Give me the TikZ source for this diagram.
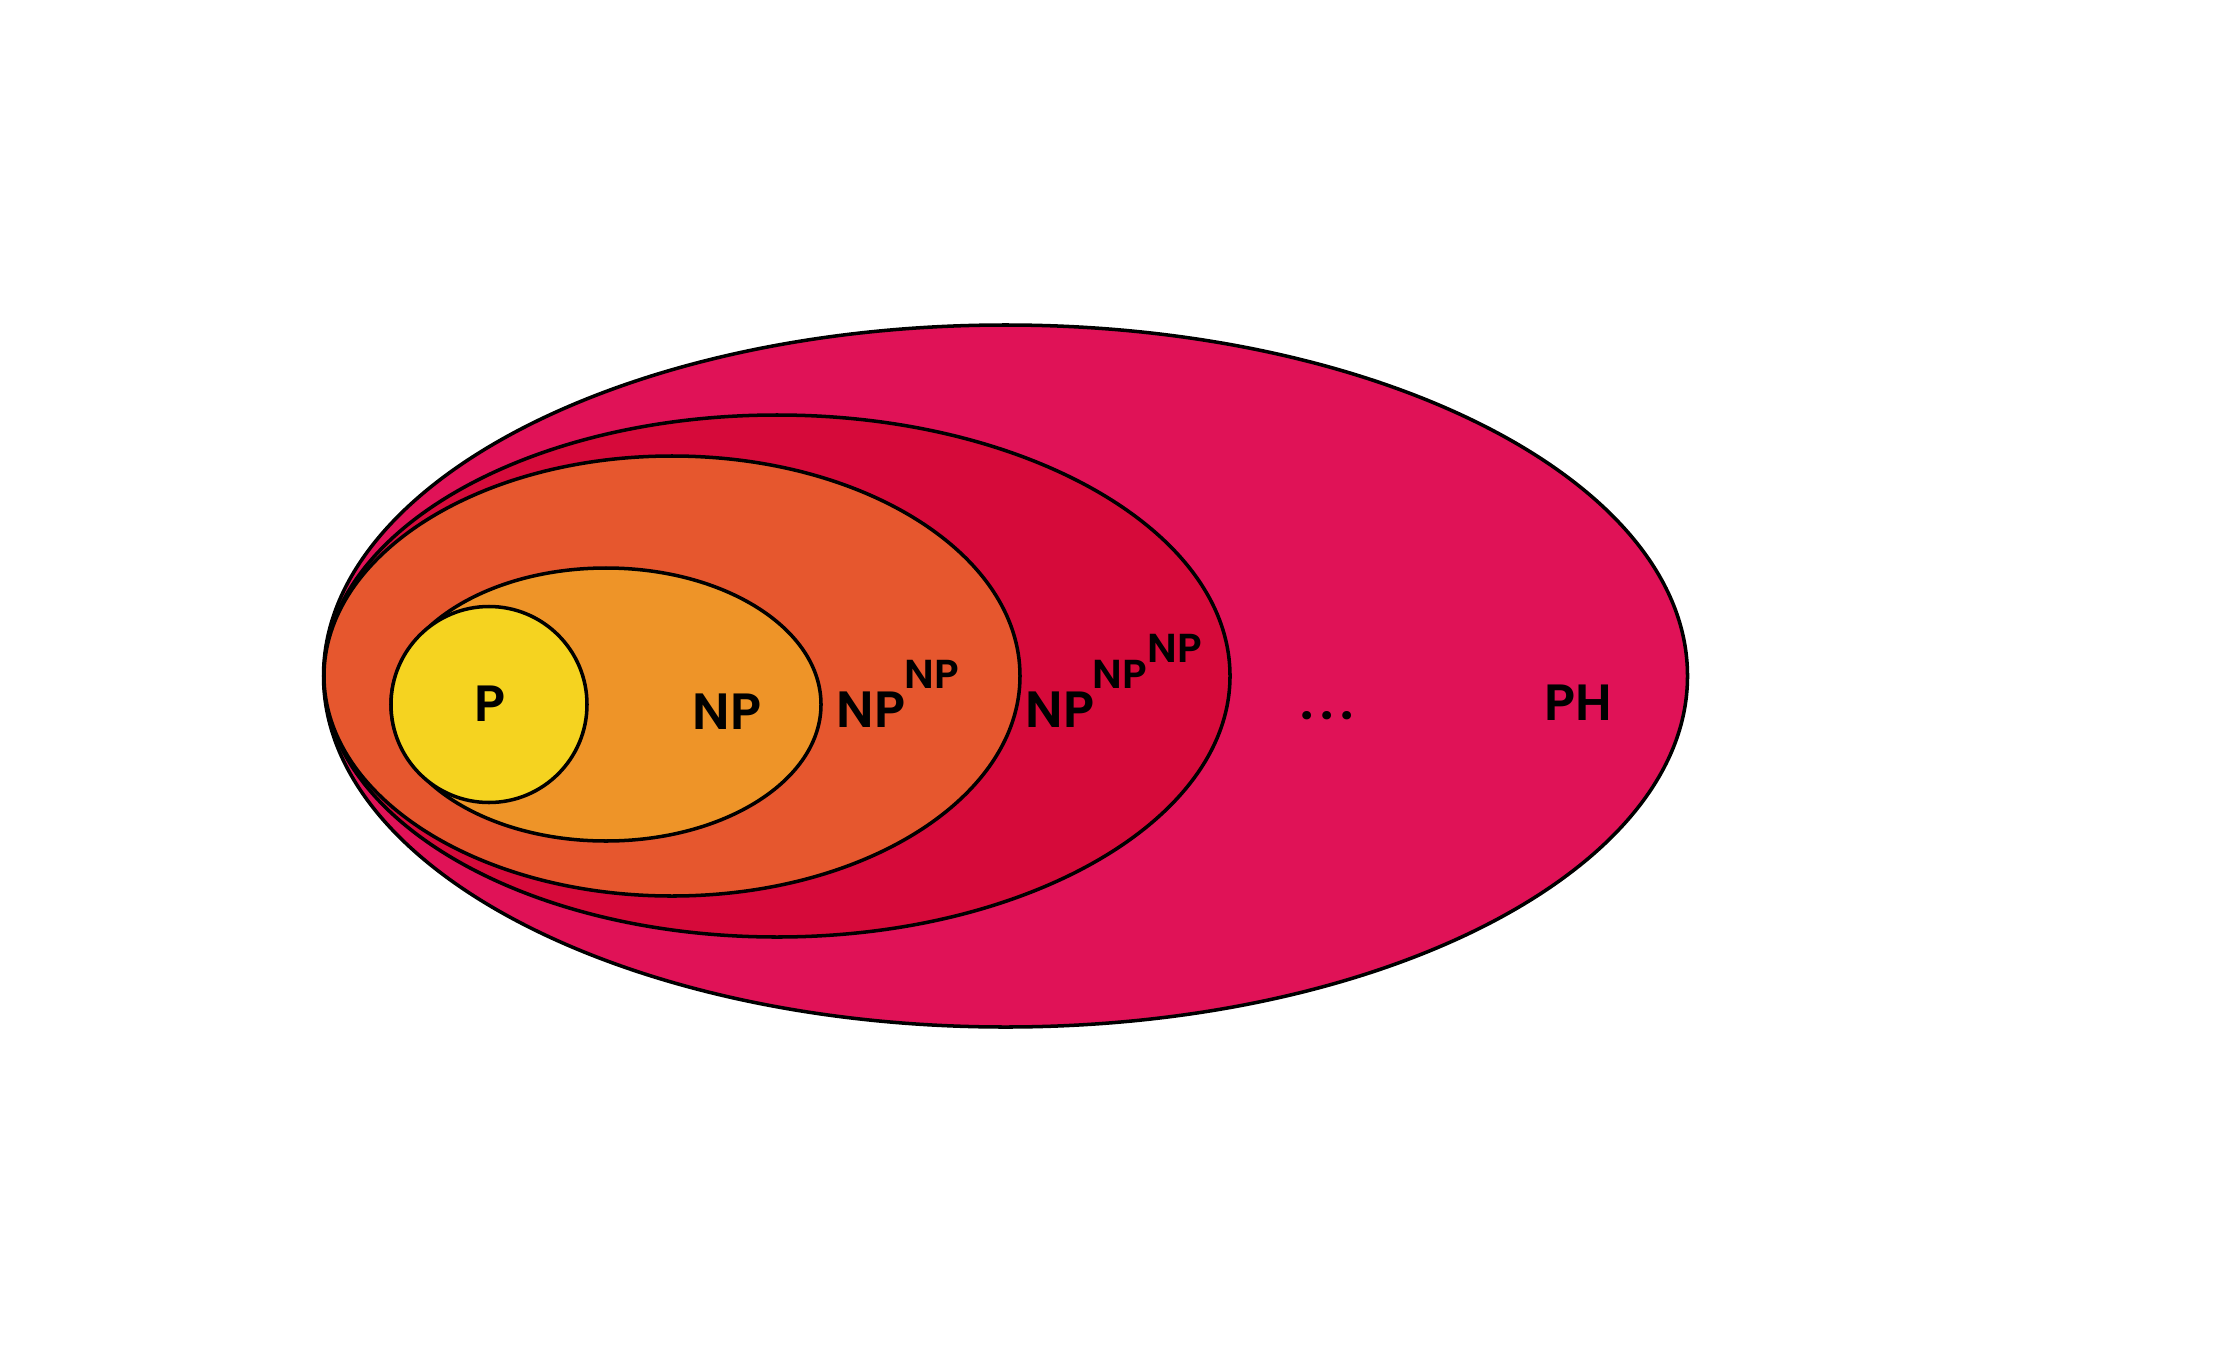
\documentclass[tikz,border=0pt]{standalone}
\usepackage{fontspec}
\setmainfont{Poppins}[BoldFont={Poppins SemiBold}]
\usepackage{xcolor}
\definecolor{phpink}{HTML}{E01257}
\definecolor{crim}{HTML}{D60A3A}
\definecolor{orred}{HTML}{E6572E}
\definecolor{orng}{HTML}{EE9428}
\definecolor{yell}{HTML}{F5D320}
\usepackage{tikz}
\usetikzlibrary{positioning}

\begin{document}
\begin{tikzpicture}[x=0.1mm,y=-0.1mm,
  klasse/.style={draw=black,line width=1pt},
  lbl/.style={font=\fontsize{14.5}{15}\selectfont\bfseries,inner sep=0pt},
  hoch/.style={font=\fontsize{11.5}{12}\selectfont\bfseries,inner sep=0pt}]
  \useasboundingbox (0,0) rectangle (2227,1350);
  % nested classes
  \draw[klasse,fill=phpink] (1005.5,676) ellipse [x radius=682,y radius=351];
  \draw[klasse,fill=crim] (777,676) ellipse [x radius=453,y radius=261];
  \draw[klasse,fill=orred] (672,676) ellipse [x radius=348,y radius=220];
  \draw[klasse,fill=orng] (606,704.5) ellipse [x radius=215,y radius=136.5];
  \draw[klasse,fill=yell] (489,704.5) circle [radius=98];
  % labels
  \node[lbl] (p) at (490,704) {P};
  \node[lbl] (np) at (727,712) {NP};
  \node[lbl] (np2) at (871,710) {NP};
  \node[hoch] (np2a) at (932,674) {NP};
  \node[lbl] (np3) at (1060,710) {NP};
  \node[hoch] (np3a) at (1120,674) {NP};
  \node[hoch] (np3b) at (1175,648) {NP};
  \node[lbl] (dots) at (1327,716) {.\kern2pt.\kern2pt.};
  \node[lbl] (ph) at (1578,703) {PH};
\end{tikzpicture}
\end{document}
